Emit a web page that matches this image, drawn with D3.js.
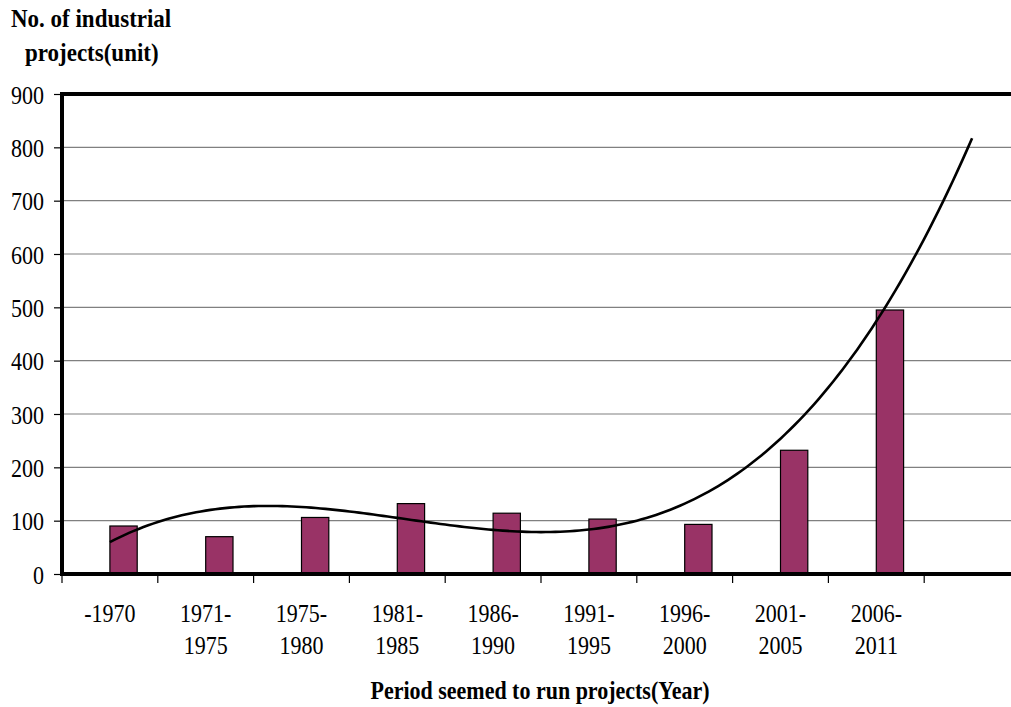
<!DOCTYPE html>
<html>
<head>
<meta charset="utf-8">
<script src="https://cdn.jsdelivr.net/npm/d3@7"></script>
<style>
  html, body { margin: 0; padding: 0; background: #fff; }
  svg { display: block; }
</style>
</head>
<body>
<svg id="chart" width="1011" height="707"></svg>
<script>
// Periods (the tenth slot is left empty for the one-period trendline forecast)
const periods = ["-1970", "1971-\n1975", "1975-\n1980", "1981-\n1985", "1986-\n1990",
                 "1991-\n1995", "1996-\n2000", "2001-\n2005", "2006-\n2011", ""];
// Number of industrial projects per period
const projects = [90, 70, 106, 132, 114, 103, 93, 232, 495];
const yTicks = [0, 100, 200, 300, 400, 500, 600, 700, 800, 900];
const yTitle = ["No. of industrial", "projects(unit)"];
const xTitle = "Period seemed to run projects(Year)";
const trendOrder = 3;      // polynomial trendline order
const trendForward = 1;    // periods forecast beyond the data

const FONT = "'Liberation Serif', 'Times New Roman', Times, serif";
const svg = d3.select("#chart").style("font-family", FONT);
const plotL = 62, plotR = 1020, plotT = 94, plotB = 574;
const stretch = "scale(1,1.15)";

const x = d3.scaleBand().domain(periods.map((p, i) => i)).range([plotL, plotR]).padding(0);
const y = d3.scaleLinear().domain([0, 900]).range([plotB, plotT]);
const bw = x.bandwidth();

// Horizontal gridlines
svg.append("g").selectAll("line")
  .data(yTicks.filter(v => v > 0 && v < 900))
  .join("line")
  .attr("x1", plotL).attr("x2", plotR)
  .attr("y1", d => y(d)).attr("y2", d => y(d))
  .attr("stroke", "#808080").attr("stroke-width", 1.2);

// Y axis ticks and labels
const yAxis = svg.append("g")
  .attr("transform", `translate(${plotL},0)`)
  .call(d3.axisLeft(y).tickValues(yTicks).tickSize(8).tickPadding(10).tickFormat(d3.format("d")))
  .attr("font-family", null);
yAxis.select(".domain").remove();
yAxis.selectAll(".tick line").attr("stroke", "#000").attr("stroke-width", 1.2);
yAxis.selectAll(".tick text")
  .style("font-family", FONT).style("font-size", "22px").attr("fill", "#000")
  .attr("dy", "0.36em").attr("transform", stretch);

// Bars
svg.append("g").selectAll("rect")
  .data(projects)
  .join("rect")
  .attr("x", (d, i) => x(i) + bw * 0.5)
  .attr("width", bw * 0.285)
  .attr("y", d => y(d))
  .attr("height", d => y(0) - y(d))
  .attr("fill", "#993366")
  .attr("stroke", "#000").attr("stroke-width", 1.2);

// Least-squares polynomial trendline over period numbers 1..n
function polyFit(xs, ys, order) {
  const m = order + 1;
  const A = Array.from({length: m}, () => new Array(m + 1).fill(0));
  xs.forEach((xv, k) => {
    for (let r = 0; r < m; r++) {
      for (let c = 0; c < m; c++) A[r][c] += Math.pow(xv, r + c);
      A[r][m] += ys[k] * Math.pow(xv, r);
    }
  });
  for (let i = 0; i < m; i++) {
    let p = i;
    for (let r = i + 1; r < m; r++) if (Math.abs(A[r][i]) > Math.abs(A[p][i])) p = r;
    [A[i], A[p]] = [A[p], A[i]];
    for (let r = 0; r < m; r++) {
      if (r === i) continue;
      const f = A[r][i] / A[i][i];
      for (let c = i; c <= m; c++) A[r][c] -= f * A[i][c];
    }
  }
  return A.map((row, i) => row[m] / row[i]);
}
const xs = projects.map((d, i) => i + 1);
const coef = polyFit(xs, projects, trendOrder);
const evalPoly = t => coef.reduce((s, c, i) => s + c * Math.pow(t, i), 0);
const tStart = 1, tEnd = projects.length + trendForward;
const trend = d3.range(tStart, tEnd + 0.0001, 0.05).map(t => [t, evalPoly(t)]);
const pos = d3.scaleLinear().domain([1, 2]).range([x(0) + bw / 2, x(1) + bw / 2]);

svg.append("path")
  .datum(trend)
  .attr("fill", "none").attr("stroke", "#000").attr("stroke-width", 2.6)
  .attr("d", d3.line().x(d => pos(d[0])).y(d => y(d[1])).curve(d3.curveLinear));

// Plot frame: thick top border, left axis and baseline
svg.append("line").attr("x1", plotL - 2).attr("x2", plotR).attr("y1", plotT).attr("y2", plotT)
  .attr("stroke", "#000").attr("stroke-width", 4);
svg.append("line").attr("x1", plotL).attr("x2", plotL).attr("y1", plotT - 2).attr("y2", plotB + 2)
  .attr("stroke", "#000").attr("stroke-width", 4);
svg.append("line").attr("x1", plotL - 2).attr("x2", plotR).attr("y1", plotB).attr("y2", plotB)
  .attr("stroke", "#000").attr("stroke-width", 4);

// X tick marks at period boundaries
svg.append("g").selectAll("line")
  .data(periods.map((p, i) => i))
  .join("line")
  .attr("x1", d => x(d)).attr("x2", d => x(d))
  .attr("y1", plotB).attr("y2", plotB + 9)
  .attr("stroke", "#000").attr("stroke-width", 1.2);

// X labels, two lines each
const xl = svg.append("g").selectAll("text")
  .data(periods)
  .join("text")
  .attr("text-anchor", "middle")
  .style("font-family", FONT).style("font-size", "22px")
  .attr("transform", (d, i) => `translate(${x(i) + bw / 2},622) ${stretch}`);
xl.each(function(d) {
  const lines = d.split("\n");
  d3.select(this).selectAll("tspan").data(lines).join("tspan")
    .attr("x", 0).attr("y", (l, k) => k * 28).text(l => l);
});

// Axis titles
svg.append("g").selectAll("text")
  .data(yTitle)
  .join("text")
  .style("font-family", FONT).style("font-size", "23px").style("font-weight", "bold")
  .attr("transform", (d, i) => `translate(${i === 0 ? 11 : 25},${i === 0 ? 27 : 61}) scale(1,1.1)`)
  .text(d => d);

svg.append("text")
  .attr("text-anchor", "middle")
  .style("font-family", FONT).style("font-size", "22px").style("font-weight", "bold")
  .attr("transform", `translate(540,699) scale(1,1.1)`)
  .text(xTitle);
</script>
</body>
</html>
